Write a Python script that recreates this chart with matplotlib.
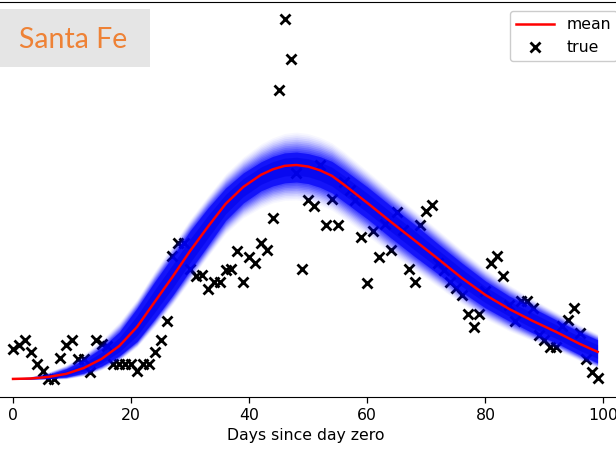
import numpy as np
import matplotlib
matplotlib.use("Agg")
import matplotlib.pyplot as plt
from matplotlib.patches import Rectangle

# Observed daily values (true)
days = list(range(100))
true_vals = [
    2.08, 2.36, 2.71, 1.88, 1.04, 0.56, 0.0, 0.0, 1.46, 2.36,
    2.71, 1.39, 1.39, 0.49, 2.71, 2.43, 2.29, 1.04, 1.04, 1.04,
    1.04, 0.56, 1.04, 1.04, 1.88, 2.71, 4.03, 8.54, 9.44, 9.44,
    7.64, 7.15, 7.22, 6.25, 6.74, 6.74, 7.57, 7.64, 8.89, 6.74,
    8.47, 8.06, 9.44, 8.96, 11.18, 20.07, 25.0, 22.22, 14.31, 7.64,
    12.43, 12.01, 14.86, 10.69, 12.50, 10.69, 13.68, 13.13, 12.43, 9.86,
    6.67, 10.28, 8.47, 10.76, 8.96, 11.60, 10.35, 7.64, 6.74, 10.69,
    11.67, 12.08, 8.06, 7.57, 6.74, 6.32, 5.83, 4.51, 3.61, 4.51,
    6.11, 8.06, 8.54, 7.15, 5.14, 4.03, 5.42, 5.42, 4.93, 3.06,
    2.71, 2.22, 2.22, 3.68, 4.10, 4.93, 3.19, 1.39, 0.49, 0.07,
]

# Posterior mean of the model and spread of the posterior samples
model_days = [0, 3, 6, 9, 12, 15, 18, 21, 24, 27, 30, 33, 36, 39, 42, 44, 46,
              48, 50, 52, 54, 56, 60, 64, 68, 72, 76, 80, 84, 88, 92, 96, 99]
model_mean = [0.0, 0.03, 0.14, 0.35, 0.76, 1.39, 2.29, 3.61, 5.35, 7.08, 8.89,
              10.56, 12.15, 13.33, 14.17, 14.55, 14.79, 14.85, 14.74, 14.48,
              14.10, 13.50, 12.22, 10.90, 9.62, 8.33, 7.01, 5.83, 4.86, 4.03,
              3.26, 2.43, 1.88]
core_up = [0.03, 0.07, 0.17, 0.35, 0.56, 0.76, 0.97, 1.30, 1.40, 1.40, 1.40,
           1.30, 1.10, 0.97, 0.90, 0.90, 0.90, 0.90, 0.90, 0.95, 1.00, 1.04,
           1.11, 1.11, 1.11, 1.04, 1.04, 0.97, 0.90, 0.90, 0.83, 0.83, 0.83]
core_dn = [0.02, 0.03, 0.10, 0.21, 0.35, 0.49, 0.69, 1.00, 1.20, 1.30, 1.35,
           1.30, 1.15, 1.11, 1.11, 1.15, 1.18, 1.18, 1.18, 1.18, 1.18, 1.18,
           1.11, 1.11, 1.11, 1.04, 0.97, 0.90, 0.83, 0.83, 0.76, 0.76, 0.76]
outer_up = [0.07, 0.14, 0.35, 0.63, 0.97, 1.32, 1.67, 1.94, 2.15, 2.22, 2.22,
            2.15, 2.08, 2.08, 2.15, 2.20, 2.25, 2.29, 2.29, 2.29, 2.29, 2.29,
            2.22, 2.15, 2.08, 2.01, 1.94, 1.81, 1.67, 1.53, 1.39, 1.32, 1.25]
outer_dn = [0.03, 0.07, 0.17, 0.35, 0.56, 0.76, 1.04, 1.39, 1.74, 1.94, 2.08,
            2.08, 2.08, 2.15, 2.29, 2.33, 2.40, 2.43, 2.43, 2.43, 2.40, 2.36,
            2.29, 2.22, 2.08, 1.94, 1.81, 1.67, 1.53, 1.39, 1.25, 1.18, 1.11]

x_ticks = [0, 20, 40, 60, 80, 100]
region_name = "Santa Fe"

FS = 11.3

fig = plt.figure(figsize=(6.16, 4.51), dpi=100)
ax = fig.add_axes([-16.2 / 616, 54.5 / 451, 643.0 / 616, 395.0 / 451])

# observations underneath the sample band
ax.plot(days, true_vals, linestyle="none", marker="x", color="black",
        markersize=7.8, markeredgewidth=2.0, zorder=1)

# posterior sample band: layered fills from the faint outer envelope to the dense core
m = np.array(model_mean)
cu, cd = np.array(core_up), np.array(core_dn)
ou, od = np.array(outer_up), np.array(outer_dn)
n_layers = 12
for i, t in enumerate(np.linspace(0, 1, n_layers)):
    hi = m + ou + (cu - ou) * t
    lo = m - (od + (cd - od) * t)
    ax.fill_between(model_days, lo, hi, color="#0000ff", alpha=0.03 + 0.2 * t ** 1.3,
                    linewidth=0, zorder=2)
ax.fill_between(model_days, m - cd, m + cu, color="#0000f5",
                alpha=0.6, linewidth=0, zorder=2)
ax.fill_between(model_days, m - cd * 0.6, m + cu * 0.6, color="#0000e8",
                alpha=0.5, linewidth=0, zorder=2)

mean_line, = ax.plot(model_days, model_mean, color="red", linewidth=1.8, zorder=3)

ax.set_xlim(-4.95, 103.95)
ax.set_ylim(-1.22, 26.2)
ax.set_xticks(x_ticks)
ax.tick_params(axis="x", labelsize=FS, length=4.5, width=0.9)
ax.set_yticks([])
ax.set_xlabel("Days since day zero", fontsize=FS, labelpad=4)

true_handle, = ax.plot([], [], linestyle="none", marker="x", color="black",
                       markersize=7.5, markeredgewidth=2.0)
ax.legend([mean_line, true_handle], ["mean", "true"], loc="upper right",
          fontsize=FS, framealpha=1.0, edgecolor="#cccccc", handlelength=2.4,
          borderaxespad=0.6)

# region label box
fig.add_artist(Rectangle((0, 384 / 451), 150 / 616, 58 / 451,
                         transform=fig.transFigure, facecolor="#e5e5e5",
                         edgecolor="none", zorder=5))
fig.text(73.5 / 616, (451 - 48.3) / 451, region_name, ha="center", va="baseline",
         fontsize=20.5, color="#ee8236", family="Lato", zorder=6)

fig.savefig("out.png", dpi=100)
